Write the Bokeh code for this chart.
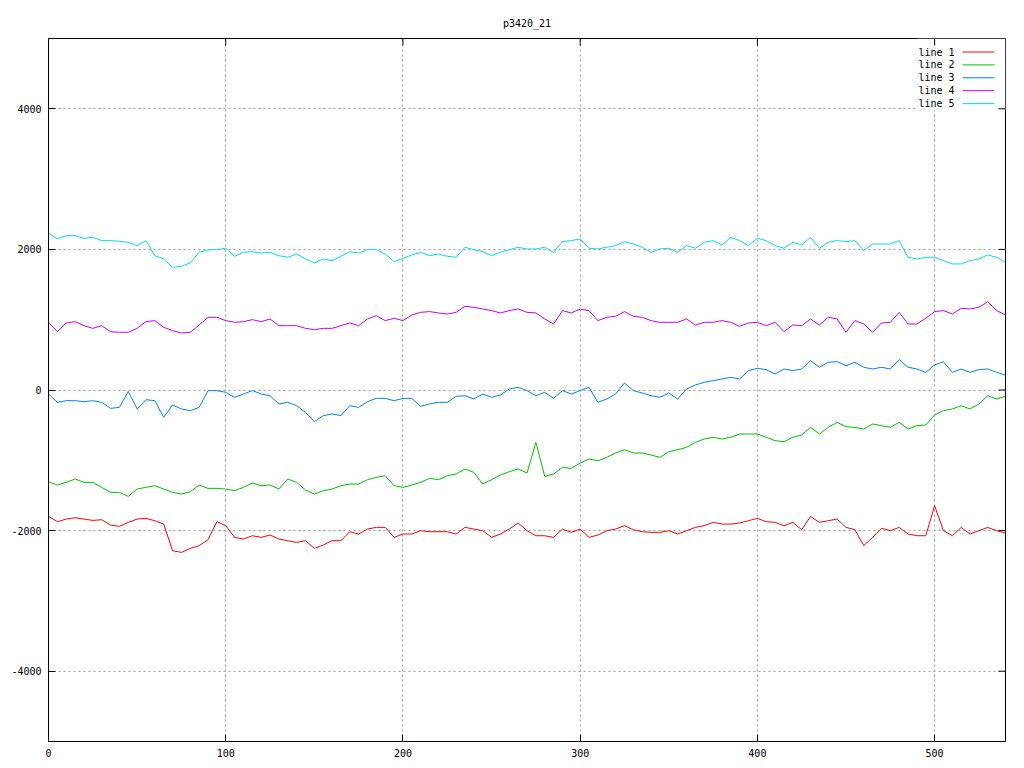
from bokeh.plotting import figure
from bokeh.models import Range1d, FixedTicker, BoxAnnotation
from bokeh.core.properties import value
from bokeh.embed import file_html
from bokeh.resources import INLINE

# ---------------- data ----------------
title_text = "p3420_21"
x_ticks = [0, 100, 200, 300, 400, 500]
x_tick_labels = ["0", "100", "200", "300", "400", "500"]
y_ticks = [-4000, -2000, 0, 2000, 4000]
y_tick_labels = ["-4000", "-2000", "0", "2000", "4000"]

x_values = list(range(0, 541, 5))  # sample index positions

line_1 = [
    -1798, -1873, -1836, -1817, -1836, -1855, -1845, -1921, -1940, -1883, -1836, -1826, -1859, -1907, -2286, -2310, -2253, -2215, -2130,
    -1873, -1930, -2096, -2120, -2073, -2096, -2063, -2120, -2144, -2168, -2144, -2253, -2205, -2144, -2144, -2016, -2049, -1978,
    -1954, -1954, -2096, -2049, -2049, -2002, -2016, -2016, -2016, -2049, -1954, -1978, -2002, -2096, -2049, -1978, -1892, -2002,
    -2073, -2073, -2096, -1978, -2025, -1978, -2096, -2063, -2002, -1978, -1930, -1987, -2016, -2025, -2025, -2002, -2049, -2002,
    -1954, -1930, -1883, -1907, -1907, -1892, -1859, -1826, -1873, -1883, -1930, -1883, -1987, -1798, -1883, -1859, -1836, -1954,
    -1987, -2215, -2096, -1968, -2002, -1954, -2049, -2073, -2073, -1646, -2002, -2073, -1954, -2049, -2002, -1954, -2002, -2035,
]
line_2 = [
    -1304, -1352, -1314, -1266, -1314, -1314, -1385, -1456, -1456, -1513, -1409, -1385, -1361, -1409, -1456, -1480, -1447, -1352, -1399,
    -1399, -1409, -1432, -1385, -1323, -1361, -1352, -1409, -1266, -1314, -1423, -1480, -1432, -1409, -1361, -1338, -1338, -1276,
    -1243, -1219, -1361, -1385, -1352, -1314, -1257, -1276, -1219, -1195, -1124, -1172, -1338, -1276, -1209, -1162, -1124, -1181,
    -745, -1228, -1195, -1100, -1115, -1039, -982, -1006, -958, -896, -849, -896, -896, -925, -958, -877, -849, -816,
    -745, -697, -673, -697, -673, -626, -626, -626, -673, -721, -735, -673, -640, -531, -626, -531, -460, -522,
    -531, -555, -484, -507, -531, -460, -555, -507, -498, -356, -294, -270, -223, -270, -199, -81, -128, -90,
]
line_3 = [
    -57, -175, -152, -152, -166, -152, -175, -261, -247, -20, -270, -138, -152, -389, -213, -270, -294, -247, -9,
    -9, -33, -104, -57, -9, -57, -81, -199, -175, -223, -318, -451, -365, -341, -365, -223, -247, -166,
    -119, -119, -152, -119, -119, -232, -199, -175, -175, -90, -81, -128, -57, -104, -71, 14, 38, -9,
    -81, -33, -119, -9, -57, -9, 38, -175, -128, -57, 100, -9, -43, -81, -104, -43, -128, 14,
    71, 109, 133, 157, 180, 157, 275, 308, 289, 228, 299, 275, 299, 417, 323, 394, 403, 346,
    394, 323, 299, 323, 299, 432, 323, 299, 251, 356, 403, 251, 299, 251, 289, 299, 251, 213,
]
line_4 = [
    963, 830, 953, 972, 915, 877, 915, 830, 821, 821, 877, 972, 987, 892, 844, 811, 821, 925, 1034,
    1034, 987, 963, 972, 1001, 972, 1010, 915, 915, 915, 877, 858, 877, 877, 915, 953, 915, 1010,
    1058, 987, 1020, 987, 1067, 1105, 1115, 1096, 1081, 1105, 1190, 1176, 1153, 1129, 1096, 1129, 1153, 1105,
    1096, 1010, 939, 1129, 1096, 1150, 1129, 987, 1034, 1048, 1115, 1048, 1034, 987, 963, 963, 963, 1010,
    925, 963, 963, 987, 963, 906, 953, 963, 915, 963, 830, 925, 915, 1010, 925, 1034, 1010, 821,
    987, 939, 821, 953, 963, 1105, 939, 939, 1020, 1115, 1129, 1081, 1162, 1153, 1176, 1257, 1129, 1067,
]
line_5 = [
    2234, 2149, 2196, 2196, 2158, 2172, 2125, 2125, 2115, 2101, 2054, 2125, 1911, 1864, 1745, 1759, 1807, 1959, 1992,
    1997, 2016, 1902, 1959, 1968, 1949, 1959, 1911, 1888, 1935, 1864, 1807, 1864, 1840, 1902, 1968, 1949, 1997,
    1997, 1935, 1826, 1873, 1921, 1959, 1911, 1935, 1902, 1888, 2030, 1997, 1968, 1911, 1959, 1997, 2030, 2006,
    2006, 2030, 1959, 2111, 2125, 2149, 2016, 2006, 2030, 2054, 2111, 2077, 2030, 1959, 2006, 2016, 1959, 2054,
    2016, 2101, 2125, 2063, 2172, 2125, 2054, 2158, 2125, 2054, 2016, 2101, 2063, 2172, 2016, 2101, 2125, 2111,
    2125, 1983, 2077, 2077, 2077, 2125, 1888, 1864, 1888, 1888, 1840, 1793, 1793, 1840, 1864, 1921, 1888, 1817,
]

series_names = ["line 1", "line 2", "line 3", "line 4", "line 5"]
series_values = [line_1, line_2, line_3, line_4, line_5]
series_colors = ["#ff0000", "#00c000", "#0080ff", "#c000ff", "#00e0e0"]

# ---------------- figure ----------------
FONT = "DejaVu Sans Mono"
X0, X1 = 0, 540
Y0, Y1 = -5000, 5000
FW, FH = 957, 703

p = figure(
    frame_width=FW, frame_height=FH,
    x_range=Range1d(X0, X1), y_range=Range1d(Y0, Y1),
    output_backend="svg", toolbar_location=None,
    min_border_left=48, min_border_right=18, min_border_top=38, min_border_bottom=26,
    background_fill_color="white", border_fill_color="white",
)
p.outline_line_color = "black"
p.outline_line_width = 1

p.title.text = title_text
p.title.align = "center"
p.title.text_font = FONT
p.title.text_font_size = "10px"
p.title.text_font_style = "normal"
p.title.text_color = "black"
p.title.standoff = 19

for ax, ticks, labels in ((p.xaxis[0], x_ticks, x_tick_labels), (p.yaxis[0], y_ticks, y_tick_labels)):
    ax.ticker = FixedTicker(ticks=ticks)
    ax.major_label_overrides = {t: l for t, l in zip(ticks, labels)}
    ax.major_tick_in = 7
    ax.major_tick_out = 0
    ax.minor_tick_line_color = None
    ax.major_label_standoff = 7
    ax.major_label_text_font = FONT
    ax.major_label_text_font_size = "10px"
    ax.major_label_text_color = "black"
    ax.axis_line_color = "black"
    ax.major_tick_line_color = "black"

p.xgrid.ticker = FixedTicker(ticks=x_ticks)
p.ygrid.ticker = FixedTicker(ticks=y_ticks)
for g in (p.xgrid[0], p.ygrid[0]):
    g.grid_line_color = "#a0a0a0"
    g.grid_line_dash = "2 3"
    g.grid_line_width = 1

px_per_x = FW / (X1 - X0)
px_per_y = FH / (Y1 - Y0)

# key background patch (hides grid behind the key, as in the reference)
p.add_layout(BoxAnnotation(left=X1 - 88 / px_per_x, right=X1, bottom=Y1 - 72 / px_per_y, top=Y1,
                           fill_color="white", fill_alpha=1.0, line_color=None, level="underlay"))

for vals, c in zip(series_values, series_colors):
    p.line(x_values, vals, line_color=c, line_width=1)

# mirrored inward ticks on the top and right borders
tick_len_x = 7 / px_per_x
tick_len_y = 7 / px_per_y
p.segment(x0=[X1] * len(y_ticks), y0=y_ticks, x1=[X1 - tick_len_x] * len(y_ticks), y1=y_ticks,
          line_color="black", line_width=1)
p.segment(x0=x_ticks, y0=[Y1] * len(x_ticks), x1=x_ticks, y1=[Y1 - tick_len_y] * len(x_ticks),
          line_color="black", line_width=1)

# key (label text, then line sample)
key_top = Y1 - 13.5 / px_per_y
key_step = 12.9 / px_per_y
key_text_x = X1 - 51 / px_per_x
key_line_x0 = X1 - 43 / px_per_x
key_line_x1 = X1 - 11 / px_per_x

key_y = [key_top - i * key_step for i in range(len(series_names))]
p.text(x=[key_text_x] * len(series_names), y=key_y, text=series_names,
       text_font=value(FONT), text_font_size="10px", text_align="right",
       text_baseline="middle", text_color="black")
p.segment(x0=[key_line_x0] * len(series_names), y0=key_y,
          x1=[key_line_x1] * len(series_names), y1=key_y,
          line_color=series_colors, line_width=1)

open("out.html", "w").write(file_html(p, INLINE))
